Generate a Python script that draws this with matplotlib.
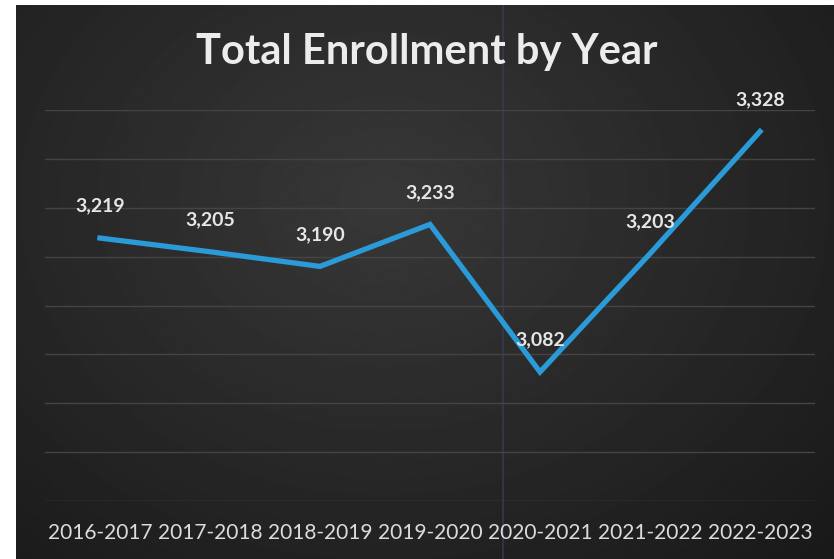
import numpy as np
import matplotlib.pyplot as plt

years = ['2016-2017', '2017-2018', '2018-2019', '2019-2020',
         '2020-2021', '2021-2022', '2022-2023']
enrollment = [3219, 3205, 3190, 3233, 3082, 3203, 3328]

W, H = 834, 559
fig = plt.figure(figsize=(W/100, H/100), dpi=100, facecolor='white')

# dark slide background with a soft radial glow
bg = fig.add_axes([16/W, 0, 1 - 16/W, 554/H])
yy, xx = np.mgrid[0:1:300j, 0:1:450j]
r = np.sqrt(((xx - 0.45)/0.75)**2 + ((yy - 0.35)/0.9)**2)
shade = 0.22 - 0.12*np.clip(r, 0, 1)
bg.imshow(shade, cmap='gray', vmin=0, vmax=1, aspect='auto', extent=[0, 1, 1, 0])
bg.axvline(0.595, color='#3b3b58', lw=1.5, alpha=0.7)
bg.set_axis_off()

ax = fig.add_axes([45/W, 58/H, 770/W, 391/H])
ax.patch.set_alpha(0)
x = np.arange(len(years))
ax.plot(x, enrollment, color='#2b9ad8', lw=3.8, solid_joinstyle='miter', zorder=3)
for xi, v in zip(x, enrollment):
    ax.annotate(f'{v:,}', (xi, v), xytext=(0, 23), textcoords='offset points',
                ha='center', va='center', color='#e6e6e6', fontsize=14,
                family='Lato', fontweight='bold', zorder=4)

ax.set_xlim(-0.5, len(years) - 0.5)
ax.set_ylim(2950, 3350)
ax.set_yticks(np.arange(2950, 3351, 50))
ax.set_yticklabels([])
ax.tick_params(axis='y', length=0)
ax.grid(axis='y', color='#444444', lw=1)
ax.set_axisbelow(True)
ax.set_xticks(x)
ax.set_xticklabels(years, color='#dcdcdc', fontsize=15, family='Lato')
ax.tick_params(axis='x', length=0, pad=16)
for s in ax.spines.values():
    s.set_visible(False)

fig.text(0.512, 1 - 52/H, 'Total Enrollment by Year', ha='center', va='center',
         color='#ececec', fontsize=30, family='Lato', fontweight='bold')

fig.savefig('out.png', dpi=100, facecolor=fig.get_facecolor())
